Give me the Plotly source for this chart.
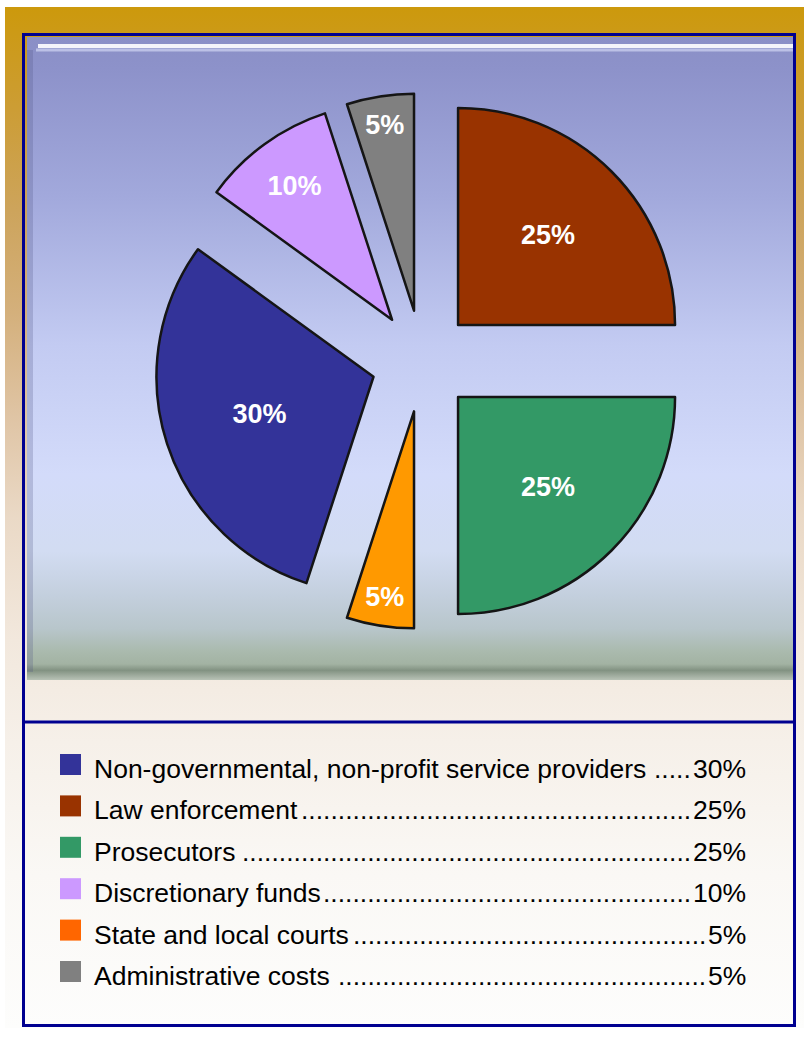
import plotly.graph_objects as go

# ---------------- data ----------------
categories = [
    "Non-governmental, non-profit service providers",
    "Law enforcement",
    "Prosecutors",
    "Discretionary funds",
    "State and local courts",
    "Administrative costs",
]
values = [30, 25, 25, 10, 5, 5]
pct_labels = ["30%", "25%", "25%", "10%", "5%", "5%"]

# ---------------- styles ----------------
pie_colors = ["#333399", "#993300", "#339966", "#CC99FF", "#FF9900", "#808080"]
legend_colors = ["#333399", "#993300", "#339966", "#CC99FF", "#FF6600", "#808080"]
pie_order = [1, 2, 4, 0, 3, 5]  # clockwise from 12 o'clock
pull_frac = 0.235

W, H = 804, 1053
FONT = "Liberation Sans, Arial, sans-serif"
FS = 26.5

# Arial / Liberation Sans advance widths (per 1000 em)
AW = {' ': 278, ',': 278, '-': 333, '.': 278, '%': 889,
      'A': 667, 'D': 722, 'L': 611, 'N': 722, 'P': 667, 'S': 667,
      'a': 556, 'b': 556, 'c': 500, 'd': 556, 'e': 556, 'f': 278, 'g': 556,
      'h': 556, 'i': 222, 'k': 500, 'l': 222, 'm': 833, 'n': 556, 'o': 556,
      'p': 556, 'r': 333, 's': 500, 't': 278, 'u': 556, 'v': 500, 'w': 722,
      'x': 500, 'y': 500}
for d in "0123456789":
    AW[d] = 556


def text_w(s, size=FS):
    return sum(AW.get(c, 556) for c in s) * size / 1000.0


fig = go.Figure()

# outer gold-to-white background
fig.add_trace(go.Scatter(
    x=[5, 804, 804, 5, 5], y=[7, 7, 1028, 1028, 7], mode="lines",
    line=dict(width=0), fill="toself",
    fillgradient=dict(type="vertical", start=7, stop=1028, colorscale=[
        [0.0, "#CC990C"], [0.10, "#CC9D35"], [0.20, "#CDA45C"],
        [0.30, "#D4B07C"], [0.40, "#DFC4A4"], [0.50, "#EAD9C6"],
        [0.62, "#F2E8DD"], [0.72, "#F6F0E9"], [0.85, "#FAF8F5"],
        [1.0, "#FDFDFC"]]),
    hoverinfo="skip", showlegend=False))

# chart panel gradient
fig.add_trace(go.Scatter(
    x=[27, 793, 793, 27, 27], y=[37, 37, 680, 680, 37], mode="lines",
    line=dict(width=0), fill="toself",
    fillgradient=dict(type="vertical", start=37, stop=680, colorscale=[
        [0.0, "#8A8FC6"], [0.05, "#8D92CA"], [0.25, "#A2A9DC"],
        [0.48, "#C3CBF2"], [0.68, "#D3DBFA"], [0.80, "#D2DCF2"],
        [0.87, "#C3CFDD"], [0.92, "#B8C6CB"], [0.955, "#AABAAE"],
        [0.975, "#A3B3A3"], [0.985, "#829282"], [1.0, "#B8C2B6"]]),
    hoverinfo="skip", showlegend=False))

# pie
r = 217
box = 2 * r * (1 + pull_frac)
cx, cy = 422, 361
fig.add_trace(go.Pie(
    labels=[categories[i] for i in pie_order],
    values=[values[i] for i in pie_order],
    sort=False, direction="clockwise", rotation=0,
    pull=pull_frac,
    marker=dict(colors=[pie_colors[i] for i in pie_order],
                line=dict(color="#151515", width=2.5)),
    texttemplate="%{percent:.0%}", textposition="inside",
    insidetextorientation="horizontal",
    textfont=dict(family=FONT, size=27, color="white", weight="bold"),
    domain=dict(x=[(cx - box / 2) / W, (cx + box / 2) / W],
                y=[1 - (cy + box / 2) / H, 1 - (cy - box / 2) / H]),
    showlegend=False, hoverinfo="label+percent"))

# legend squares
row0_sq, row0_txt, row_step = 764.5, 769.0, 41.4
fig.add_trace(go.Scatter(
    x=[70.5] * len(categories),
    y=[row0_sq + i * row_step for i in range(len(categories))],
    mode="markers",
    marker=dict(symbol="square", size=21, color=legend_colors,
                line=dict(width=0)),
    hoverinfo="skip", showlegend=False))

annotations = []
x_text, x_right = 93, 747
dot_w = text_w(".")
for i, (cat, pl) in enumerate(zip(categories, pct_labels)):
    y = row0_txt + i * row_step
    pct_left = x_right - text_w(pl)
    label_end = x_text + text_w(cat)
    n_dots = int((pct_left - 2 - label_end - 3) // dot_w)
    annotations.append(dict(x=x_text, y=y, xref="x", yref="y", text=cat,
                            showarrow=False, xanchor="left", yanchor="middle",
                            borderpad=0, font=dict(family=FONT, size=FS, color="#000000")))
    annotations.append(dict(x=pct_left - 2, y=y, xref="x", yref="y", text="." * n_dots,
                            showarrow=False, xanchor="right", yanchor="middle",
                            borderpad=0, font=dict(family=FONT, size=FS, color="#000000")))
    annotations.append(dict(x=x_right, y=y, xref="x", yref="y", text=pl,
                            showarrow=False, xanchor="right", yanchor="middle",
                            borderpad=0, font=dict(family=FONT, size=FS, color="#000000")))

shapes = [
    # panel bevel highlights
    dict(type="line", x0=38, x1=793, y0=46, y1=46, xref="x", yref="y",
         line=dict(color="rgba(255,255,255,0.9)", width=4), layer="above"),
    dict(type="line", x0=36, x1=793, y0=50, y1=50, xref="x", yref="y",
         line=dict(color="rgba(220,225,250,0.6)", width=3), layer="above"),
    dict(type="line", x0=30, x1=30, y0=50, y1=672, xref="x", yref="y",
         line=dict(color="rgba(80,85,130,0.25)", width=6), layer="above"),
    # blue frame
    dict(type="rect", x0=23.5, x1=794.5, y0=34.5, y1=1025.5, xref="x", yref="y",
         line=dict(color="#000090", width=3), fillcolor="rgba(0,0,0,0)", layer="above"),
    dict(type="line", x0=23.5, x1=794.5, y0=722, y1=722, xref="x", yref="y",
         line=dict(color="#000090", width=3), layer="above"),
]

fig.update_layout(
    width=W, height=H, margin=dict(l=0, r=0, t=0, b=0),
    paper_bgcolor="#FFFFFF", plot_bgcolor="rgba(0,0,0,0)",
    xaxis=dict(range=[0, W], visible=False, fixedrange=True),
    yaxis=dict(range=[H, 0], visible=False, fixedrange=True),
    annotations=annotations, shapes=shapes, showlegend=False,
)

fig.write_html(
    "out.html",
    config={"displayModeBar": False},
    post_script="document.body.style.margin='0';document.body.style.overflow='hidden';",
)
